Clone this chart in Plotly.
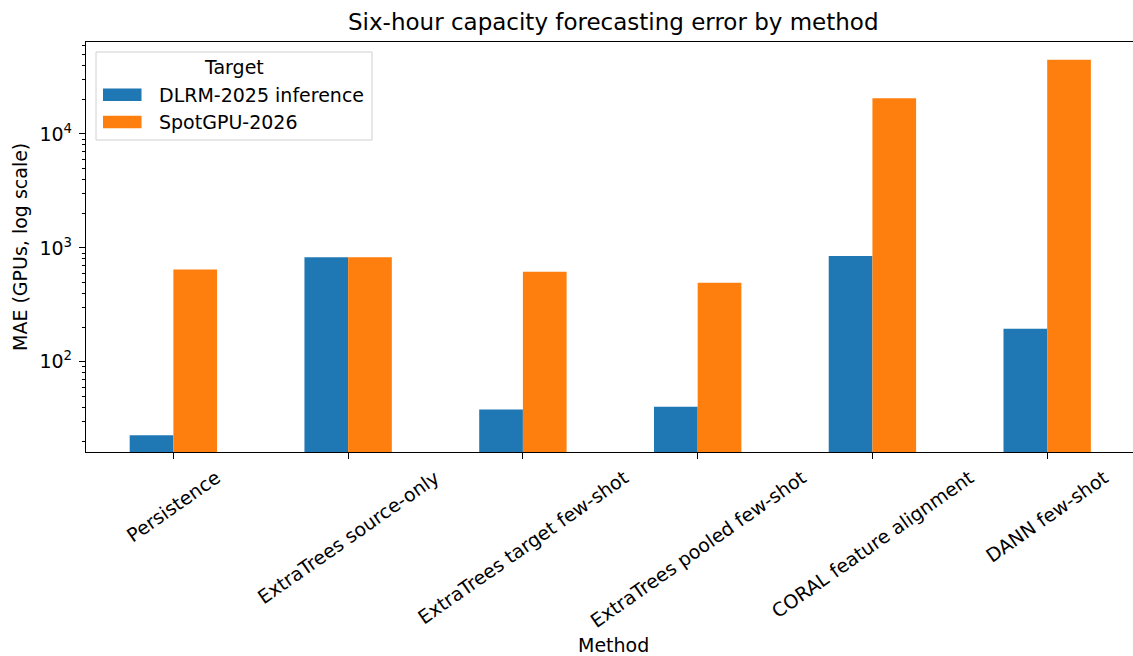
import plotly.graph_objects as go

# Six-hour MAE (GPUs) per forecasting method and target workload
methods = [
    "Persistence",
    "ExtraTrees source-only",
    "ExtraTrees target few-shot",
    "ExtraTrees pooled few-shot",
    "CORAL feature alignment",
    "DANN few-shot",
]
dlrm_mae = [22.7, 826, 38.2, 40.2, 847, 195]
spot_mae = [647, 826, 617, 494, 20600, 44700]
series_names = ["DLRM-2025 inference", "SpotGPU-2026"]
colors = ["#1f77b4", "#ff7f0e"]
ytick_vals = [100, 1000, 10000]
ytick_text = ["10<sup>2</sup>", "10<sup>3</sup>", "10<sup>4</sup>"]

FONT = "DejaVu Sans"
FS = 19
W, H = 1133, 656
L, R, T, B = 86, 1133, 42, 452  # plot area in pixels


def px(x):
    return (x - L) / (R - L)


def py(y):
    return (B - y) / (B - T)


xs = list(range(len(methods)))
fig = go.Figure()
for name, vals, col in zip(series_names, [dlrm_mae, spot_mae], colors):
    fig.add_trace(go.Bar(x=xs, y=vals, name=name, marker_color=col,
                         marker_line_width=0, showlegend=False))

minor_vals = [m * 10 ** e for e in range(1, 5) for m in range(2, 10)]

fig.update_layout(
    width=W, height=H,
    margin=dict(l=L, r=W - R, t=T, b=H - B),
    paper_bgcolor="white", plot_bgcolor="white",
    barmode="group", bargap=0.5, bargroupgap=0,
    font=dict(family=FONT, size=FS, color="black"),
    xaxis=dict(
        range=[-0.5, 5.491], tickvals=xs, showticklabels=False,
        ticks="outside", ticklen=6, tickwidth=1.3, tickcolor="black",
        showline=True, linecolor="black", linewidth=1.3, mirror=True,
        showgrid=False, zeroline=False,
    ),
    yaxis=dict(
        type="log", range=[1.208, 4.807],
        tickvals=ytick_vals, ticktext=ytick_text,
        ticks="outside", ticklen=6, tickwidth=1.3, tickcolor="black",
        minor=dict(tickvals=minor_vals, ticks="outside", ticklen=3.3,
                   tickwidth=1, tickcolor="black", showgrid=False),
        showline=True, linecolor="black", linewidth=1.3,
        showgrid=False, zeroline=False, ticklabelstandoff=3,
        tickfont=dict(size=FS),
    ),
)

ann = []
# rotated category labels
for i, m in enumerate(methods):
    ann.append(dict(x=i, y=0, xref="x", yref="paper", text=m, showarrow=False,
                    textangle=-35, xanchor="center", yanchor="top", yshift=-11,
                    font=dict(size=FS)))
# titles
ann.append(dict(x=px(613), y=py(22), xref="paper", yref="paper",
                text="Six-hour capacity forecasting error by method",
                showarrow=False, xanchor="center", yanchor="middle",
                font=dict(size=23)))
ann.append(dict(x=px(613), y=py(645), xref="paper", yref="paper", text="Method",
                showarrow=False, xanchor="center", yanchor="middle",
                font=dict(size=FS)))
ann.append(dict(x=px(20), y=py(247), xref="paper", yref="paper",
                text="MAE (GPUs, log scale)", textangle=-90, showarrow=False,
                xanchor="center", yanchor="middle", font=dict(size=FS)))

# legend box
shapes = [dict(type="rect", xref="paper", yref="paper",
               x0=px(96), x1=px(372), y0=py(140), y1=py(52),
               line=dict(color="#d0d0d0", width=1), fillcolor="rgba(255,255,255,0.8)",
               layer="above")]
ann.append(dict(x=px(234), y=py(67), xref="paper", yref="paper", text="Target",
                showarrow=False, xanchor="center", yanchor="middle",
                font=dict(size=FS)))
for (name, col, yc) in zip(series_names, colors, [94.7, 122]):
    shapes.append(dict(type="rect", xref="paper", yref="paper",
                       x0=px(103), x1=px(141.5), y0=py(yc + 6.3), y1=py(yc - 6.3),
                       line=dict(width=0), fillcolor=col, layer="above"))
    ann.append(dict(x=px(157), y=py(yc), xref="paper", yref="paper", text=name,
                    showarrow=False, xanchor="left", yanchor="middle",
                    font=dict(size=FS)))

fig.update_layout(annotations=ann, shapes=shapes)
fig.write_html("out.html")
